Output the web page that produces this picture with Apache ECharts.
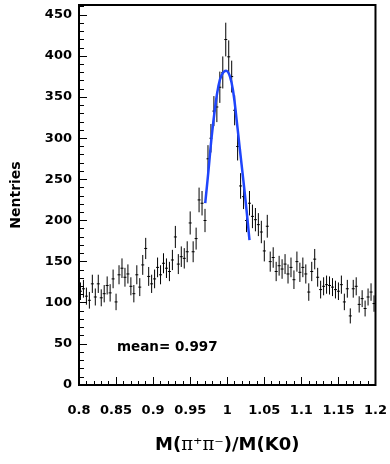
<!DOCTYPE html>
<html>
<head>
<meta charset="utf-8">
<script src="https://cdn.jsdelivr.net/npm/echarts@6/dist/echarts.min.js"></script>
<style>
  html, body { margin: 0; padding: 0; background: #fff; }
  #chart { width: 390px; height: 464px; }
</style>
</head>
<body>
<div id="chart"></div>
<script>
// histogram binning: 100 bins from 0.8 to 1.2
const binStart = 0.8;
const binWidth = 0.004;

// entries per bin
const counts = [
  114, 117, 108, 103, 123, 107, 123, 106, 111, 121,
  112, 129, 101, 134, 142, 131, 135, 120, 111, 134,
  119, 146, 166, 132, 123, 129, 143, 134, 148, 142,
  138, 152, 180, 147, 156, 154, 162, 197, 162, 178,
  225, 221, 200, 275, 300, 333, 338, 362, 380, 420,
  399, 375, 334, 290, 242, 229, 200, 221, 205, 201,
  195, 186, 163, 193, 150, 155, 138, 145, 141, 147,
  135, 143, 128, 150, 137, 143, 135, 113, 138, 153,
  131, 116, 120, 122, 121, 119, 116, 114, 122, 101,
  117, 84, 117, 120, 98, 105, 93, 107, 113, 99
];

// fitted curve
const fitX = [0.9703, 0.9747, 0.979, 0.9837, 0.988, 0.9926, 0.9984, 1.0037, 1.0083, 1.0127, 1.0171, 1.0217, 1.026, 1.030];
const fitY = [221, 261, 302, 338, 363, 377, 382, 375, 355, 322, 286, 249, 213, 176];

const xTickLabels = ['0.8', '0.85', '0.9', '0.95', '1', '1.05', '1.1', '1.15', '1.2'];
const meanText = 'mean= 0.997';

const histData = counts.map((c, i) => [binStart + (i + 0.5) * binWidth, c, Math.sqrt(c)]);
const fitData = fitX.map((x, i) => [x, fitY[i]]);

const font = 'DejaVu Sans';
const tickLine = { color: '#000', width: 1 };
const chart = echarts.init(document.getElementById('chart'));

chart.setOption({
  animation: false,
  backgroundColor: '#fff',
  grid: {
    left: 79, right: 12, top: 5, bottom: 79,
    show: true, borderColor: '#000', borderWidth: 2, backgroundColor: 'transparent'
  },
  xAxis: {
    type: 'value',
    min: 0.8,
    max: 1.2,
    interval: 0.05,
    splitLine: { show: false },
    axisLine: { show: false },
    axisTick: { show: true, inside: true, length: 8, lineStyle: tickLine },
    minorTick: { show: true, splitNumber: 5, length: 4, lineStyle: tickLine },
    axisLabel: {
      color: '#000', fontFamily: font, fontWeight: 'bold', fontSize: 13, margin: 19,
      formatter: (v) => xTickLabels[Math.round((v - 0.8) / 0.05)]
    },
    name: '{a|M(}{p|π⁺π⁻}{a|)/M(K0)}',
    nameLocation: 'middle',
    nameGap: 51,
    nameTextStyle: {
      rich: {
        a: { fontFamily: font, fontWeight: 'bold', fontSize: 18, color: '#000' },
        p: { fontFamily: 'DejaVu Serif', fontWeight: 'normal', fontSize: 18, color: '#000' }
      }
    }
  },
  yAxis: [{
    // major ticks + labels
    type: 'value',
    position: 'left',
    min: 0,
    max: 462,
    interval: 50,
    splitLine: { show: false },
    axisLine: { show: false },
    axisTick: { show: true, inside: true, length: 8, lineStyle: tickLine },
    axisLabel: {
      color: '#000', fontFamily: font, fontWeight: 'bold', fontSize: 13, margin: 7,
      showMaxLabel: false
    },
    name: 'Nentries',
    nameLocation: 'middle',
    nameGap: 56,
    nameTextStyle: { color: '#000', fontFamily: font, fontWeight: 'bold', fontSize: 14 }
  }, {
    // minor ticks
    type: 'value',
    position: 'left',
    min: 0,
    max: 462,
    interval: 10,
    splitLine: { show: false },
    axisLine: { show: false },
    axisTick: { show: true, inside: true, length: 5, lineStyle: tickLine },
    axisLabel: { show: false }
  }],
  series: [{
    type: 'custom',
    data: histData,
    clip: true,
    renderItem: (params, api) => {
      const x = api.value(0), v = api.value(1), e = api.value(2);
      const top = api.coord([x, v + e]);
      const bot = api.coord([x, v - e]);
      const l = api.coord([x - binWidth / 2, v]);
      const r = api.coord([x + binWidth / 2, v]);
      const style = { stroke: '#000', lineWidth: 1 };
      return {
        type: 'group',
        children: [
          { type: 'line', shape: { x1: top[0], y1: top[1], x2: bot[0], y2: bot[1] }, style: style },
          { type: 'line', shape: { x1: l[0], y1: l[1], x2: r[0], y2: r[1] }, style: style }
        ]
      };
    }
  }, {
    type: 'line',
    data: fitData,
    smooth: 0.4,
    showSymbol: false,
    symbol: 'none',
    lineStyle: { color: '#1f45fc', width: 2.5 },
    z: 5
  }],
  graphic: [{
    type: 'text',
    left: 117,
    top: 340,
    style: { text: meanText, fill: '#000', font: 'bold 13.5px "DejaVu Sans"' }
  }]
});
</script>
</body>
</html>
